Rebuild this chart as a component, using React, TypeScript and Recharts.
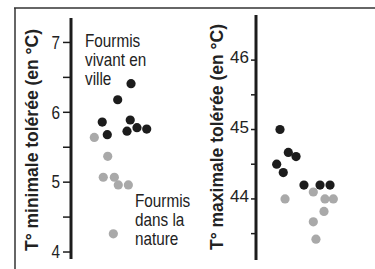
import { ScatterChart, Scatter, XAxis, YAxis } from 'recharts'

// Tolérance au froid (T° minimale) — position horizontale = dispersion des points
const villeMinX = [5.36, 4.17, 2.79, 3.24, 5.29, 5.0, 5.89, 6.76]
const villeMinT = [6.41, 6.18, 5.86, 5.68, 5.89, 5.73, 5.78, 5.76]
const natureMinX = [2.08, 3.28, 2.88, 3.87, 4.22, 5.12, 3.78]
const natureMinT = [5.64, 5.37, 5.07, 5.07, 4.96, 4.96, 4.26]

// Tolérance à la chaleur (T° maximale)
const villeMaxX = [2.18, 2.94, 3.64, 1.88, 2.48, 4.36, 5.82, 6.73]
const villeMaxT = [45.0, 44.67, 44.61, 44.5, 44.38, 44.2, 44.2, 44.2]
const natureMaxX = [2.64, 5.21, 6.27, 7.03, 6.18, 5.21, 5.45]
const natureMaxT = [44.0, 44.1, 44.0, 44.0, 43.82, 43.67, 43.42]

const minTicks = [4, 4.5, 5, 5.5, 6, 6.5, 7]
const maxTicks = [43.5, 44, 44.5, 45, 45.5, 46]

const toPoints = (xs: number[], ys: number[]) => xs.map((x, i) => ({ x, y: ys[i] }))

const DARK = '#1c1c1c'
const GREY = '#a9a9a9'
const SANS = "'Liberation Sans', Arial, sans-serif"

const dot = (fill: string) => (props: any) => (
  <circle cx={props.cx} cy={props.cy} r={4.6} fill={fill} />
)

const intOnly = (v: number) => (Number.isInteger(v) ? String(v) : '')

// condensed look: squeeze Liberation Sans horizontally
const NarrowTick = (props: any) => {
  const { x, y, payload } = props
  const label = intOnly(payload.value)
  return (
    <g transform={`translate(${x},${y}) scale(0.85,1)`}>
      <text x={0} y={0} dy="0.35em" textAnchor="end" fontFamily={SANS} fontSize={18} fill="#222">{label}</text>
    </g>
  )
}

const Narrow = ({ x, lines, y0 }: { x: number; lines: string[]; y0: number }) => (
  <g transform={`translate(${x},0) scale(0.85,1)`}>
    <text fontFamily={SANS} fontSize={18} fill="#222">
      {lines.map((l, i) => (
        <tspan key={i} x={0} y={y0 + i * 19}>{l}</tspan>
      ))}
    </text>
  </g>
)

export default function App() {
  return (
    <div style={{ position: 'fixed', left: 0, top: 0, width: 375, height: 269, background: '#fff', overflow: 'hidden' }}>
      <div style={{ position: 'absolute', left: 0, top: 0 }}>
        <ScatterChart width={190} height={269} margin={{ top: 18, right: 7, bottom: 10, left: 0 }}>
          <XAxis type="number" dataKey="x" domain={[0, 10]} tick={false} tickLine={false} height={0}
            axisLine={{ stroke: DARK, strokeWidth: 3 }} />
          <YAxis type="number" dataKey="y" domain={[3.9, 7.35]} allowDataOverflow ticks={minTicks} interval={0}
            width={71} tickSize={8} tickMargin={3} tickFormatter={intOnly}
            axisLine={{ stroke: DARK, strokeWidth: 3 }} tickLine={{ stroke: DARK, strokeWidth: 1.5 }}
            tick={<NarrowTick />} />
          <Scatter data={toPoints(natureMinX, natureMinT)} shape={dot(GREY)} isAnimationActive={false} />
          <Scatter data={toPoints(villeMinX, villeMinT)} shape={dot(DARK)} isAnimationActive={false} />
        </ScatterChart>
      </div>
      <div style={{ position: 'absolute', left: 185, top: 0 }}>
        <ScatterChart width={190} height={269} margin={{ top: 15, right: 9, bottom: 9, left: 0 }}>
          <XAxis type="number" dataKey="x" domain={[0, 10]} tick={false} tickLine={false} height={0}
            axisLine={{ stroke: DARK, strokeWidth: 3 }} />
          <YAxis type="number" dataKey="y" domain={[43.12, 46.65]} allowDataOverflow ticks={maxTicks} interval={0}
            width={71} tickSize={5} tickMargin={2} tickFormatter={intOnly}
            axisLine={{ stroke: DARK, strokeWidth: 3 }} tickLine={{ stroke: DARK, strokeWidth: 1.5 }}
            tick={{ fill: '#222', fontSize: 17, fontFamily: SANS, dy: -3 }} />
          <Scatter data={toPoints(natureMaxX, natureMaxT)} shape={dot(GREY)} isAnimationActive={false} />
          <Scatter data={toPoints(villeMaxX, villeMaxT)} shape={dot(DARK)} isAnimationActive={false} />
        </ScatterChart>
      </div>
      <svg width={375} height={269} style={{ position: 'absolute', left: 0, top: 0, pointerEvents: 'none' }}>
        <line x1={14} y1={8} x2={375} y2={8} stroke="#333" strokeWidth={1.5} />
        <line x1={15} y1={8} x2={15} y2={269} stroke="#333" strokeWidth={1.5} />
        <text x={32} y={140} transform="rotate(-90 32 140)" textAnchor="middle" dominantBaseline="central"
          fontFamily={SANS} fontWeight="bold" fontSize={17.5} fill="#222">
          T° minimale tolérée (en °C)
        </text>
        <text x={217} y={137} transform="rotate(-90 217 137)" textAnchor="middle" dominantBaseline="central"
          fontFamily={SANS} fontWeight="bold" fontSize={17.5} fill="#222">
          T° maximale tolérée (en °C)
        </text>
        <Narrow x={85} y0={47} lines={['Fourmis', 'vivant en', 'ville']} />
        <Narrow x={135} y0={207} lines={['Fourmis', 'dans la', 'nature']} />
      </svg>
    </div>
  )
}
